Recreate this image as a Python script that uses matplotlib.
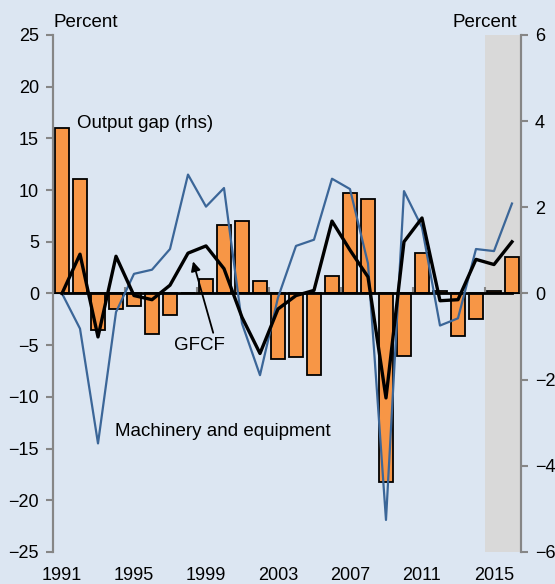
import numpy as np
import matplotlib
matplotlib.use('Agg')
import matplotlib.pyplot as plt

plt.rcParams['font.family'] = ['Liberation Sans', 'DejaVu Sans']

# data
years = list(range(1991, 2017))
output_gap = [3.84, 2.65, -0.84, -0.37, -0.28, -0.93, -0.51, 0.0, 0.33, 1.58,
              1.68, 0.30, -1.53, -1.47, -1.90, 0.40, 2.33, 2.19, -4.37, -1.44,
              0.93, 0.06, -0.98, -0.60, 0.05, 0.84]
gfcf = [0.0, 3.8, -4.2, 3.6, -0.2, -0.6, 0.8, 3.9, 4.6, 2.4,
        -2.3, -5.8, -1.5, -0.2, 0.3, 7.0, 4.2, 1.6, -10.1, 5.0,
        7.3, -0.7, -0.6, 3.3, 2.8, 5.0]
machinery = [0.0, -3.4, -14.5, -1.8, 1.9, 2.3, 4.3, 11.5, 8.4, 10.2,
             -2.9, -7.9, -0.4, 4.6, 5.2, 11.1, 10.1, 2.9, -21.9, 9.9,
             6.4, -3.1, -2.4, 4.3, 4.1, 8.7]
year_labels = [str(y) for y in range(1991, 2017, 4)]

bg = '#DCE6F2'
axis_grey = '#868686'
fs_tick = 13
fs_text = 13.5

fig = plt.figure(figsize=(5.55, 5.84), dpi=100, facecolor=bg)
ax = fig.add_axes([0.0955, 0.0548, 0.8432, 0.8853])
ax2 = ax.twinx()
ax.set_zorder(ax2.get_zorder() + 1)
ax.patch.set_visible(False)
ax2.patch.set_visible(False)

x = np.array(years)

# forecast shading and bars on the right axis
ax2.axvspan(2014.5, 2016.5, color='#D9D9D9', zorder=0, lw=0)
ax2.bar(x, output_gap, width=0.76, color='#F79646', edgecolor='black',
        linewidth=1.3, zorder=2)
ax2.set_ylim(-6, 6)
ax2.set_yticks([-6, -4, -2, 0, 2, 4, 6])

# lines on the left axis
ax.plot(x, np.zeros(len(x)), color='black', lw=2.0, zorder=3)
ax.plot(x, machinery, color='#3B6698', lw=1.6, zorder=4)
ax.plot(x, gfcf, color='black', lw=2.4, zorder=5)
ax.set_ylim(-25, 25)
ax.set_yticks(range(-25, 30, 5))
ax.set_xlim(1990.5, 2016.5)
ax.set_xticks(range(1991, 2017, 4))
ax.set_xticklabels(year_labels)

for a in (ax, ax2):
    a.spines['top'].set_visible(False)
    a.spines['bottom'].set_visible(False)
    a.spines['left'].set_color(axis_grey)
    a.spines['right'].set_color(axis_grey)
    a.spines['left'].set_linewidth(1.5)
    a.spines['right'].set_linewidth(1.5)

ax.tick_params(axis='y', direction='out', length=5, width=1.5, color=axis_grey,
               labelsize=fs_tick, pad=5)
ax2.tick_params(axis='y', direction='out', length=5, width=1.5, color=axis_grey,
                labelsize=fs_tick, pad=5)
ax.tick_params(axis='x', length=0, labelsize=fs_tick, pad=11)

# category axis crossing at zero
zax = ax.secondary_xaxis(0.5)
zax.set_xticks(np.arange(1994.5, 2016, 4))
zax.set_xticklabels([])
zax.tick_params(axis='x', direction='out', length=4, width=1.5, color=axis_grey)
zax.spines['bottom'].set_color(axis_grey)
zax.spines['bottom'].set_linewidth(1.5)

# labels
ax.text(0.002, 1.025, 'Percent', transform=ax.transAxes, fontsize=fs_text,
        ha='left', va='center')
ax.text(0.991, 1.025, 'Percent', transform=ax.transAxes, fontsize=fs_text,
        ha='right', va='center')
ax.text(1991.85, 16.4, 'Output gap (rhs)', fontsize=fs_text, ha='left',
        va='center')
ax.text(1997.2, -5.0, 'GFCF', fontsize=fs_text, ha='left', va='center')
ax.text(1993.95, -13.3, 'Machinery and equipment', fontsize=fs_text,
        ha='left', va='center')
ax.annotate('', xy=(1998.28, 3.1), xytext=(1999.4, -3.8),
            arrowprops=dict(arrowstyle='-|>', color='black', lw=1.3,
                            mutation_scale=14, shrinkA=0, shrinkB=0),
            zorder=6)

fig.savefig('out.png', dpi=100, facecolor=bg)
